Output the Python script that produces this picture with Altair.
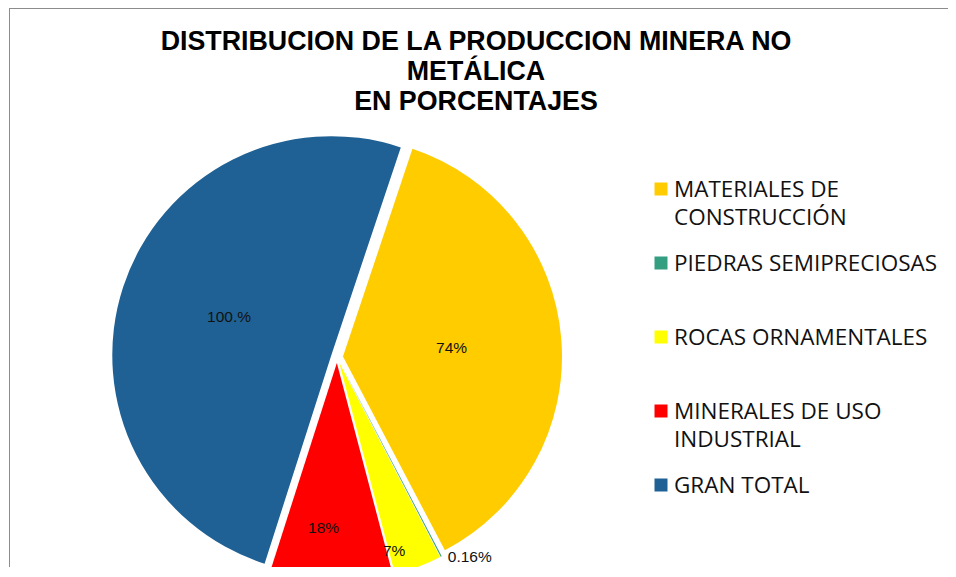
import math
import altair as alt
import pandas as pd

# ---- data ----
categories = ["MATERIALES DE CONSTRUCCIÓN", "PIEDRAS SEMIPRECIOSAS",
              "ROCAS ORNAMENTALES", "MINERALES DE USO INDUSTRIAL", "GRAN TOTAL"]
legend_labels = ["MATERIALES DE\nCONSTRUCCIÓN", "PIEDRAS SEMIPRECIOSAS",
                 "ROCAS ORNAMENTALES", "MINERALES DE USO\nINDUSTRIAL", "GRAN TOTAL"]
values = [74, 0.16, 7, 18, 100]
value_labels = ["74%", "0.16%", "7%", "18%", "100.%"]
colors = ["#FFCC00", "#339E80", "#FFFF00", "#FF0000", "#1F6194"]
title_lines = ["DISTRIBUCION DE LA PRODUCCION MINERA NO", "METÁLICA", "EN PORCENTAJES"]

# ---- layout / style (svg coordinates; page = svg + 8) ----
W, H = 940, 559
CX, CY = 329, 349          # pie centre
R = 219                    # radius
EXPLODE = 6
ROT = math.radians(18.5)
label_r = [115, 240, 202, 172, 115]
label_dtheta = [0, -6, 4.7, 3, 2]   # degrees

df = pd.DataFrame({
    "idx": list(range(len(categories))),
    "cat": categories,
    "leg": legend_labels,
    "v": values,
    "lab": value_labels,
})

base = alt.Chart(df).transform_window(
    cum="sum(v)", sort=[alt.SortField("idx")], frame=[None, 0]
).transform_joinaggregate(total="sum(v)").transform_calculate(
    mid=f"{ROT} + 2*PI*(datum.cum - datum.v/2)/datum.total"
).transform_calculate(
    px=f"{CX} + {EXPLODE}*sin(datum.mid)",
    py=f"{CY} - {EXPLODE}*cos(datum.mid)",
    lr=f"{label_r}[datum.idx]",
    la=f"datum.mid + {label_dtheta}[datum.idx]*PI/180",
).transform_calculate(
    lx=f"{CX} + datum.lr*sin(datum.la)",
    ly=f"{CY} - datum.lr*cos(datum.la)",
)

color_scale = alt.Scale(domain=categories, range=colors)

pie = base.mark_arc(radius=R).encode(
    theta=alt.Theta("v:Q", stack=True, scale=alt.Scale(range=[ROT, ROT + 2 * math.pi])),
    order=alt.Order("idx:Q"),
    color=alt.Color("cat:N", scale=color_scale, legend=None),
    x=alt.X("px:Q", scale=None),
    y=alt.Y("py:Q", scale=None),
)

labels = base.mark_text(font="Liberation Sans", fontSize=15.5, color="#111111",
                        align="center", baseline="middle").encode(
    x=alt.X("lx:Q", scale=None),
    y=alt.Y("ly:Q", scale=None),
    text="lab:N",
)

leg_y = alt.Y("idx:Q", scale=alt.Scale(domain=[0, 4], range=[181, 477]), axis=None)
leg_sym = alt.Chart(df).mark_square(size=169, opacity=1).encode(
    x=alt.value(653),
    y=leg_y,
    color=alt.Color("cat:N", scale=color_scale, legend=None),
)
leg_txt = alt.Chart(df).mark_text(font="Open Sans", fontSize=22.5, color="#111111",
                                  align="left", baseline="alphabetic", dy=7.5,
                                  lineBreak="\n", lineHeight=28).encode(
    x=alt.value(666),
    y=leg_y,
    text="leg:N",
)

title_df = pd.DataFrame({"t": ["\n".join(title_lines)]})
title = alt.Chart(title_df).mark_text(
    font="Liberation Sans", fontSize=26.8, fontWeight="bold", color="#000000",
    align="center", baseline="alphabetic", lineBreak="\n", lineHeight=30,
).encode(x=alt.value(468), y=alt.value(42), text="t:N")

border_df = pd.DataFrame({"k": [0]})
border_top = alt.Chart(border_df).mark_rule(color="#8c8c8c", strokeWidth=1).encode(
    x=alt.value(1), x2=alt.value(W + 5), y=alt.value(0.5))
border_left = alt.Chart(border_df).mark_rule(color="#8c8c8c", strokeWidth=1).encode(
    x=alt.value(1.5), y=alt.value(0), y2=alt.value(H + 5))

chart = alt.layer(pie, labels, leg_sym, leg_txt, title, border_top, border_left).resolve_scale(
    x="independent", y="independent", color="shared"
).properties(
    width=W, height=H,
    padding=0,
    autosize=alt.AutoSizeParams(type="none"),
).configure_view(stroke=None)

chart.save("out.html", embed_options={"renderer": "svg", "actions": False})
